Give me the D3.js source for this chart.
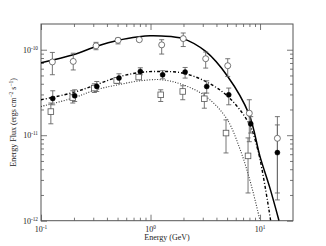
<!DOCTYPE html>
<html><head><meta charset="utf-8">
<script src="https://cdn.jsdelivr.net/npm/d3@7"></script>
<style>body{margin:0;background:#fff}svg{display:block}text{font-family:"Liberation Serif","DejaVu Serif",serif;fill:#222}</style>
</head><body>
<script>
// ---- data ----
const circE  = [0.127,0.197,0.318,0.505,0.79,1.265,1.99,3.19,5.07,7.98,14.4];
const circF  = [7.2e-11,7.3e-11,1.11e-10,1.29e-10,1.31e-10,1.14e-10,1.35e-10,7.85e-11,6.5e-11,1.81e-11,9.2e-12];
const circHi = [9.3e-11,9.1e-11,1.22e-10,1.37e-10,1.36e-10,1.31e-10,1.57e-10,9.4e-11,7.85e-11,2.6e-11,1.65e-11];
const circLo = [5.1e-11,5.8e-11,1.0e-10,1.17e-10,1.25e-10,8.9e-11,1.09e-10,6.1e-11,4.87e-11,8.4e-12,1.75e-12];

const fillE  = [0.128,0.203,0.323,0.515,0.807,1.29,2.07,3.26,5.18,8.22,14.4];
const fillF  = [2.69e-11,2.89e-11,3.72e-11,4.66e-11,5.57e-11,5.09e-11,5.48e-11,3.72e-11,2.97e-11,1.36e-11,6.26e-12];
const fillHi = [3.31e-11,3.4e-11,4.25e-11,5.23e-11,6.15e-11,5.68e-11,6.2e-11,4.33e-11,3.56e-11,1.65e-11,1.32e-11];
const fillLo = [2.27e-11,2.48e-11,3.25e-11,4.07e-11,5.09e-11,4.57e-11,4.66e-11,3.11e-11,2.27e-11,1.06e-11,2.11e-12];

const sqE  = [0.123,0.195,0.307,0.491,0.78,1.24,1.97,3.10,4.89,7.77];
const sqF  = [1.89e-11,2.76e-11,3.56e-11,4.37e-11,4.79e-11,2.97e-11,3.25e-11,2.67e-11,1.06e-11,5.73e-12];
const sqHi = [2.38e-11,3.31e-11,4.0e-11,4.7e-11,5.1e-11,3.4e-11,3.79e-11,3.11e-11,1.51e-11,9.3e-12];
const sqLo = [1.36e-11,2.38e-11,3.16e-11,4.05e-11,4.5e-11,2.48e-11,2.6e-11,2.07e-11,6.2e-12,2.11e-12];

const solidE = [0.1,0.197,0.318,0.505,0.785,0.99,1.26,1.98,3.19,5.07,7.92,10,12.3,14.9];
const solidF = [7.05e-11,8.73e-11,1.09e-10,1.29e-10,1.42e-10,1.46e-10,1.45e-10,1.35e-10,9.55e-11,4.87e-11,1.77e-11,5.62e-12,2.42e-12,1e-12];
const dashE = [0.1,0.197,0.318,0.505,0.801,1.27,1.98,3.19,5.01,7.77,9.55,12.5];
const dashF = [2.6e-11,3.16e-11,3.89e-11,4.79e-11,5.42e-11,5.57e-11,5.33e-11,4.25e-11,2.89e-11,1.43e-11,6.74e-12,1e-12];
const dotE = [0.1,0.196,0.318,0.505,0.801,1.27,1.98,3.14,4.9,6.6,8.3,10.0];
const dotF = [2.17e-11,2.72e-11,3.4e-11,3.89e-11,4.33e-11,4.45e-11,3.89e-11,2.89e-11,1.6e-11,6.74e-12,2.62e-12,1e-12];

const xTicks = [0.1,1,10];
const xTickLabels = [["10","-1"],["10","0"],["10","1"]];
const yTicks = [1e-12,1e-11,1e-10];
const yTickLabels = [["10","-12"],["10","-11"],["10","-10"]];
const xTitle = "Energy (GeV)";
const yTitle = ["Energy Flux (ergs cm","\u22122"," s","\u22121",")"];

// ---- chart ----
const W=326,H=246, L=41,R=293,T=24,B=220.7;
const svg=d3.select("body").append("svg").attr("width",W).attr("height",H);
const x=d3.scaleLog().domain([0.1,20]).range([L,R]);
const y=d3.scaleLog().domain([1e-12,2e-10]).range([B,T]);
const axisCol="#555";

function minors(dom){const out=[];for(let e=-13;e<3;e++){for(let k=2;k<=9;k++){const v=k*Math.pow(10,e);if(v>dom[0]*1.0001&&v<dom[1]*0.9999)out.push(v);}}return out;}
const xMin=minors(x.domain()), yMin=minors(y.domain());

function styleAxis(g){g.select(".domain").remove();g.selectAll("line").attr("stroke",axisCol).attr("stroke-width",0.8);g.selectAll("text").remove();}
svg.append("g").attr("transform",`translate(0,${B})`).call(d3.axisBottom(x).tickValues(xMin).tickSize(-3).tickFormat("")).call(styleAxis);
svg.append("g").attr("transform",`translate(0,${B})`).call(d3.axisBottom(x).tickValues(xTicks).tickSize(-6).tickFormat("")).call(styleAxis);
svg.append("g").attr("transform",`translate(0,${T})`).call(d3.axisTop(x).tickValues(xMin).tickSize(-3).tickFormat("")).call(styleAxis);
svg.append("g").attr("transform",`translate(0,${T})`).call(d3.axisTop(x).tickValues(xTicks).tickSize(-6).tickFormat("")).call(styleAxis);
svg.append("g").attr("transform",`translate(${L},0)`).call(d3.axisLeft(y).tickValues(yMin).tickSize(-3).tickFormat("")).call(styleAxis);
svg.append("g").attr("transform",`translate(${L},0)`).call(d3.axisLeft(y).tickValues(yTicks).tickSize(-6).tickFormat("")).call(styleAxis);
svg.append("g").attr("transform",`translate(${R},0)`).call(d3.axisRight(y).tickValues(yMin).tickSize(-3).tickFormat("")).call(styleAxis);
svg.append("g").attr("transform",`translate(${R},0)`).call(d3.axisRight(y).tickValues(yTicks).tickSize(-6).tickFormat("")).call(styleAxis);
svg.append("rect").attr("x",L).attr("y",T).attr("width",R-L).attr("height",B-T).attr("fill","none").attr("stroke",axisCol).attr("stroke-width",1);

// tick labels
xTicks.forEach((v,i)=>{const t=svg.append("text").attr("x",x(v)).attr("y",B+11).attr("text-anchor","middle").style("font-size","8px");
  t.append("tspan").text(xTickLabels[i][0]);t.append("tspan").attr("dy",-3.2).style("font-size","5.3px").text(xTickLabels[i][1]);});
yTicks.forEach((v,i)=>{const t=svg.append("text").attr("x",L-3).attr("y",y(v)+3).attr("text-anchor","end").style("font-size","8px");
  t.append("tspan").text(yTickLabels[i][0]);t.append("tspan").attr("dy",-3.2).style("font-size","5.3px").text(yTickLabels[i][1]);});

svg.append("text").attr("x",(L+R)/2).attr("y",240).attr("text-anchor","middle").style("font-size","8px").text(xTitle);
const yt=svg.append("text").attr("transform",`translate(16,${(T+B)/2}) rotate(-90)`).attr("text-anchor","middle").style("font-size","8px");
yt.append("tspan").text(yTitle[0]);yt.append("tspan").attr("dy",-3).style("font-size","5.5px").text(yTitle[1]);
yt.append("tspan").attr("dy",3).text(yTitle[2]);yt.append("tspan").attr("dy",-3).style("font-size","5.5px").text(yTitle[3]);
yt.append("tspan").attr("dy",3).text(yTitle[4]);

// clip
svg.append("clipPath").attr("id","clip").append("rect").attr("x",L).attr("y",T).attr("width",R-L).attr("height",B-T);
const plot=svg.append("g").attr("clip-path","url(#clip)");

const line=d3.line().x(d=>x(d[0])).y(d=>y(d[1])).curve(d3.curveCatmullRom.alpha(0.5));
plot.append("path").attr("d",line(d3.zip(dotE,dotF))).attr("fill","none").attr("stroke","#333").attr("stroke-width",1.1).attr("stroke-dasharray","1,1.6");
plot.append("path").attr("d",line(d3.zip(dashE,dashF))).attr("fill","none").attr("stroke","#000").attr("stroke-width",1.4).attr("stroke-dasharray","3,2,1,2");
plot.append("path").attr("d",line(d3.zip(solidE,solidF))).attr("fill","none").attr("stroke","#000").attr("stroke-width",1.5);

function errbars(E,Hi,Lo){
  const g=plot.append("g").attr("stroke","#666").attr("stroke-width",0.9);
  E.forEach((e,i)=>{const cx=x(e);
    g.append("line").attr("x1",cx).attr("x2",cx).attr("y1",y(Hi[i])).attr("y2",y(Lo[i]));
    g.append("line").attr("x1",cx-2.5).attr("x2",cx+2.5).attr("y1",y(Hi[i])).attr("y2",y(Hi[i]));
    g.append("line").attr("x1",cx-2.5).attr("x2",cx+2.5).attr("y1",y(Lo[i])).attr("y2",y(Lo[i]));});
}
errbars(sqE,sqHi,sqLo);errbars(circE,circHi,circLo);errbars(fillE,fillHi,fillLo);

plot.selectAll(".sq").data(d3.zip(sqE,sqF)).join("rect").attr("x",d=>x(d[0])-2.8).attr("y",d=>y(d[1])-2.8).attr("width",5.6).attr("height",5.6)
  .attr("fill","#fff").attr("stroke","#555").attr("stroke-width",0.8);
plot.selectAll(".ci").data(d3.zip(circE,circF)).join("circle").attr("cx",d=>x(d[0])).attr("cy",d=>y(d[1])).attr("r",3)
  .attr("fill","#fff").attr("stroke","#555").attr("stroke-width",0.8);
plot.selectAll(".fi").data(d3.zip(fillE,fillF)).join("circle").attr("cx",d=>x(d[0])).attr("cy",d=>y(d[1])).attr("r",2.5)
  .attr("fill","#000").attr("stroke","#000").attr("stroke-width",0.5);
</script>
</body></html>
